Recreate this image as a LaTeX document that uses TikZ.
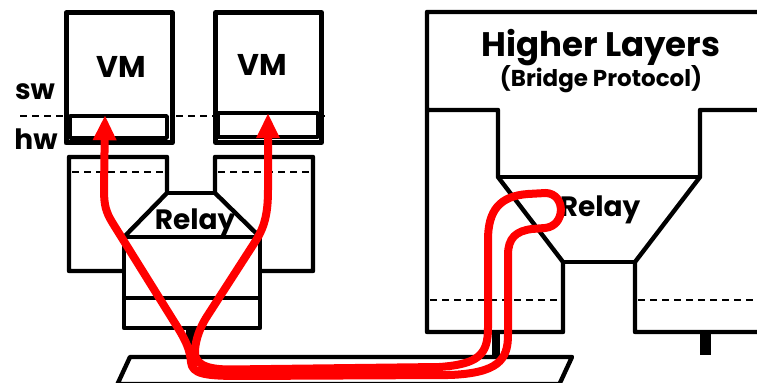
\documentclass[tikz,border=0pt]{standalone}
\usepackage{fontspec}
\setmainfont{Poppins}
\usetikzlibrary{arrows.meta,positioning,calc}
\definecolor{flowRed}{HTML}{FF0000}

\begin{document}
\begin{tikzpicture}[x=0.5pt,y=-0.5pt,
   wall/.style={draw=black,line width=2.2pt,line join=round},
   vmbox/.style={wall,fill=white,line width=2.5pt,minimum width=53pt,minimum height=65pt,inner sep=0pt},
   nic/.style={wall,fill=white,line width=1.8pt,inner sep=0pt},
   layerline/.style={black,line width=0.9pt,dash pattern=on 3.5pt off 2.5pt},
   stub/.style={fill=black},
   tag/.style={anchor=base,inner sep=0pt,font=\bfseries\fontsize{14}{14}\selectfont},
   vmtag/.style={tag,font=\bfseries\fontsize{15}{15}\selectfont},
   title/.style={tag,font=\bfseries\fontsize{17}{17}\selectfont},
   subtitle/.style={tag,font=\bfseries\fontsize{11.5}{11.5}\selectfont},
   flow/.style={draw=flowRed,line width=4pt,line cap=round,line join=round,
                {Triangle[length=12.5pt,width=11pt]}-{Triangle[length=12.5pt,width=11pt]}}]
  \useasboundingbox (0,0) rectangle (757,383);
  \draw[layerline] (20,116) -- (325,116);
  \node[vmbox] (vm1) at (119,78) {};
  \node[vmbox] (vm2) at (268.5,77.5) {};
  \node[nic,minimum width=48.5pt,minimum height=11pt] (nic1) at (118.5,127) {};
  \node[nic,minimum width=50pt,minimum height=12pt] (nic2) at (268,125) {};
  \node[vmtag] (vm1lbl) at (121,78) {VM};
  \node[vmtag] (vm2lbl) at (262,76) {VM};
  \node[tag] (sw) at (35,100) {sw};
  \node[tag] (hw) at (36,150) {hw};
  % host bridge (left)
  \draw[wall] (124,271) -- (69,271) -- (69,157) -- (167,157) -- (167,193) -- (124,237);
  \draw[wall] (260,271) -- (313,271) -- (313,157) -- (215,157) -- (215,193) -- (260,237);
  \draw[wall] (167,193) -- (215,193);
  \draw[wall] (124,237) rectangle (260,328);
  \draw[wall] (124,298) -- (260,298);
  \draw[layerline] (72,172) -- (164,172);
  \draw[layerline] (218,172) -- (310,172);
  \fill[stub] (186,328) rectangle (199,357);
  \node[tag] (relay1) at (195,230) {Relay};
  % external bridge (right)
  \draw[wall] (770,12) -- (427,12) -- (427,332) -- (563,332) -- (563,262) -- (498,177) -- (498,110) -- (427,110);
  \draw[wall] (770,110) -- (700,110) -- (700,177) -- (635,262) -- (635,332) -- (770,332);
  \draw[wall] (498,177) -- (700,177);
  \draw[wall] (563,262) -- (635,262);
  \draw[layerline] (430,300) -- (560,300);
  \draw[layerline] (638,300) -- (770,300);
  \fill[stub] (492,332) rectangle (500,357);
  \fill[stub] (700,332) rectangle (711,355);
  \node[title] (higher) at (601,57) {Higher Layers};
  \node[subtitle] (proto) at (601,87) {(Bridge Protocol)};
  \node[tag] (relay2) at (600,217) {Relay};
  % wire
  \draw[wall] (117.5,384) -- (130,357) -- (572,357) -- (559.5,384) -- cycle;
  % hairpin path
  \draw[flow] ($(nic1.north)+(-13.5,1)$) -- (104,190)
    .. controls (104,205) and (106,212) .. (112,222) -- (178,328)
    .. controls (186,341) and (190,350) .. (191,362)
    .. controls (192,374) and (205,376) .. (240,376) -- (450,375)
    .. controls (498,373) and (508,360) .. (508,335) -- (508,255)
    .. controls (508,238) and (516,231) .. (532,229) -- (545,228)
    .. controls (566,226) and (566,194) .. (546,193) -- (528,194)
    .. controls (500,196) and (488,210) .. (488,240) -- (488,328)
    .. controls (488,355) and (478,364) .. (440,367) -- (230,369.5)
    .. controls (202,369.5) and (194,362) .. (195,350)
    .. controls (196,338) and (200,328) .. (206,318) -- (255,242)
    .. controls (264,228) and (268,215) .. (268,190) -- ($(nic2.north)+(0,2)$);
\end{tikzpicture}
\end{document}
